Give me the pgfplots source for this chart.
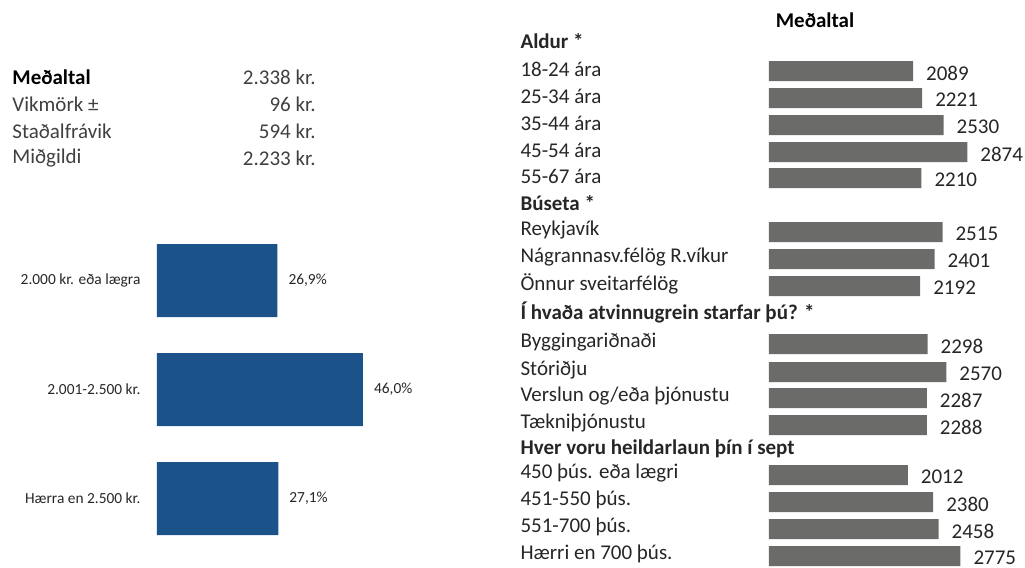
\documentclass[border=0pt]{standalone}
\usepackage{pgfplots}
\pgfplotsset{compat=1.18}
\usepackage{fontspec}
\setmainfont{Carlito}
\definecolor{barblue}{RGB}{27,82,137}
\definecolor{bargrey}{RGB}{107,107,105}
\definecolor{txt}{RGB}{38,38,38}
\definecolor{txtg}{RGB}{64,64,64}
\newcommand{\fs}{\fontsize{10.5}{12}\selectfont}
\newcommand{\fss}{\fontsize{7.7}{9}\selectfont}

\begin{document}
\begin{tikzpicture}
\useasboundingbox (0pt,0pt) rectangle (512.5pt,-284pt);

% summary table, top left
\begin{scope}[x=0.5pt,y=-0.5pt]
\node[anchor=west,font=\fs\bfseries,text=black,inner sep=0pt] at (12,77) {Meðaltal};
\node[anchor=west,font=\fs,text=txtg,inner sep=0pt] at (12,104) {Vikmörk ±};
\node[anchor=west,font=\fs,text=txtg,inner sep=0pt] at (12,131) {Staðalfrávik};
\node[anchor=west,font=\fs,text=txtg,inner sep=0pt] at (12,158) {Miðgildi};
\node[anchor=east,font=\fs,text=txtg,inner sep=0pt] at (316,77) {2.338 kr.};
\node[anchor=east,font=\fs,text=txtg,inner sep=0pt] at (316,104) {96 kr.};
\node[anchor=east,font=\fs,text=txtg,inner sep=0pt] at (316,131) {594 kr.};
\node[anchor=east,font=\fs,text=txtg,inner sep=0pt] at (316,158) {2.233 kr.};
\node[font=\fs\bfseries,text=black] at (815,20) {Meðaltal};
\end{scope}

% distribution, bottom left
\begin{axis}[
  at={(78.5pt,0pt)}, anchor=north west,
  x=2.239pt, y=0.5pt, y dir=reverse,
  xmin=0, xmax=60, ymin=0, ymax=568,
  xbar, bar width=36.5pt, bar shift=0pt,
  axis line style={draw=none}, tick style={draw=none},
  xtick=\empty,
  ytick={280.5,389.5,498.5},
  yticklabels={2.000 kr. eða lægra,2.001-2.500 kr.,Hærra en 2.500 kr.},
  yticklabel style={font=\fss, text=txt, xshift=-0.5pt},
  nodes near coords={\pgfmathprintnumber[fixed,fixed zerofill,precision=1,use comma]{\pgfplotspointmeta}\%},
  every node near coord/.append style={font=\fss, text=txt, xshift=2pt},
  /pgf/number format/assume math mode=true,
  clip=false]
\addplot[fill=barblue, draw=none] coordinates {(26.9,280.5) (46.0,389.5) (27.1,498.5)};
\end{axis}

% means by group, right
\begin{axis}[
  at={(384.5pt,0pt)}, anchor=north west,
  x=0.0345pt, y=0.5pt, y dir=reverse,
  xmin=0, xmax=3000, ymin=0, ymax=568,
  xbar, bar width=10pt, bar shift=0pt,
  axis line style={draw=none}, tick style={draw=none},
  xtick=\empty,
  ytick={43,71,98,125,152,178,205,232,259,286,314,344,372,398,425,451,475,502,529,556},
  yticklabels={\textbf{Aldur *},18-24 ára,25-34 ára,35-44 ára,45-54 ára,55-67 ára,
    \textbf{Búseta *},Reykjavík,Nágrannasv.félög R.víkur,Önnur sveitarfélög,
    \textbf{Í hvaða atvinnugrein starfar þú? *},Byggingariðnaði,Stóriðju,Verslun og/eða þjónustu,Tækniþjónustu,
    \textbf{Hver voru heildarlaun þín í sept},450 þús. eða lægri,451-550 þús.,551-700 þús.,Hærri en 700 þús.},
  yticklabel style={anchor=west, xshift=-123.5pt, yshift=1pt, font=\fs, text=txt},
  nodes near coords, point meta=x,
  every node near coord/.append style={font=\fs, text=txt, xshift=3pt, yshift=-1pt},
  /pgf/number format/1000 sep={}, /pgf/number format/assume math mode=true,
  clip=false]
\addplot[fill=bargrey, draw=none] coordinates {
  (2089,71) (2221,98) (2530,125) (2874,152) (2210,178)
  (2515,232) (2401,259) (2192,286)
  (2298,344) (2570,372) (2287,398) (2288,425)
  (2012,475) (2380,502) (2458,529) (2775,556)};
\end{axis}
\end{tikzpicture}
\end{document}
